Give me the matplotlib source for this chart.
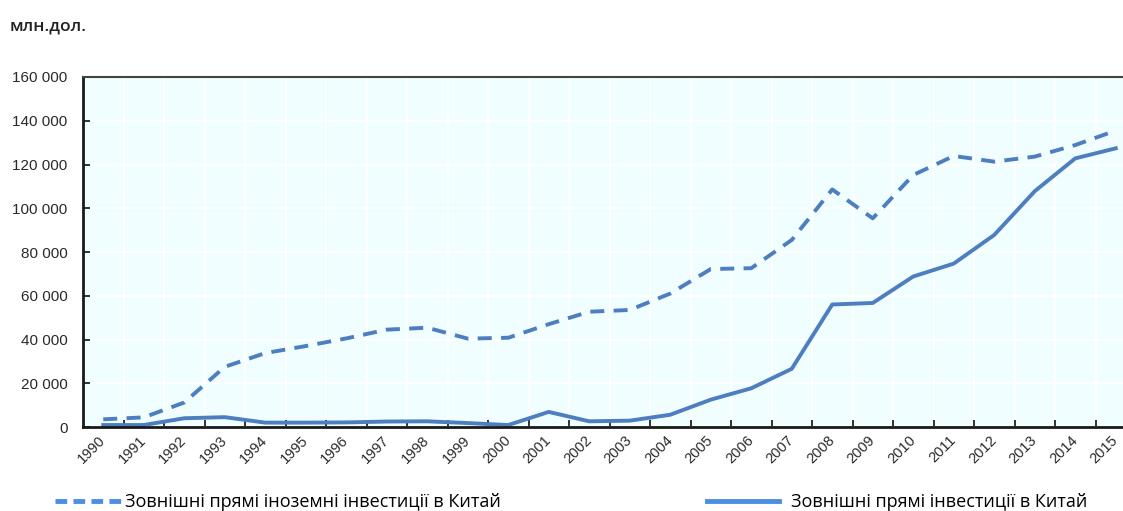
import matplotlib
matplotlib.use("Agg")
import matplotlib.pyplot as plt
from matplotlib.ticker import FuncFormatter, FixedLocator
from matplotlib.lines import Line2D
from matplotlib.transforms import ScaledTranslation

years = list(range(1990, 2016))
inward = [3500, 4400, 11200, 27500, 33800, 37000, 40500, 44500, 45400, 40400, 40800,
          47000, 52700, 53500, 61000, 72200, 72600, 85500, 108600, 95400, 115200,
          123900, 121300, 123600, 128900, 135500]
outward = [900, 900, 4000, 4500, 2000, 2000, 2100, 2500, 2600, 1800, 900,
           6900, 2600, 2900, 5600, 12500, 17700, 26600, 56000, 56700, 68800,
           74700, 87800, 107800, 122800, 127400]
label_in = "Зовнішні прямі іноземні інвестиції в Китай"
label_out = "Зовнішні прямі інвестиції в Китай"
unit_label = "млн.дол."

W, H = 1123, 511
fig = plt.figure(figsize=(W / 100, H / 100), dpi=100)
fig.patch.set_facecolor("white")

left, right, top, bottom = 83, 1136, 77, 427
ax = fig.add_axes([left / W, (H - bottom) / H, (right - left) / W, (bottom - top) / H])
ax.set_facecolor("#F0FEFF")

line_col = "#4D7EBF"
ax.plot(years, inward, color=line_col, lw=2.8, dashes=(3.6, 2.4), solid_capstyle="butt")
ax.plot(years, outward, color=line_col, lw=2.8, solid_joinstyle="round")

ax.set_xlim(1989.5, 2015.5)
ax.set_ylim(0, 160000)

# ticks between categories, labels centered on categories
ax.xaxis.set_major_locator(FixedLocator([y + 0.5 for y in years[:-1]]))
ax.xaxis.set_minor_locator(FixedLocator(years))
ax.set_xticklabels([])
labels = ax.set_xticklabels([str(y) for y in years], minor=True, rotation=45, ha="right",
                            va="center", rotation_mode="anchor", fontsize=10.5,
                            color="#2a2a2a", family="Liberation Sans")
shift = ScaledTranslation(-3 / 100, 0, fig.dpi_scale_trans)
for t in labels:
    t.set_transform(t.get_transform() + shift)
ax.tick_params(axis="x", which="minor", length=0, pad=8)
ax.tick_params(axis="x", which="major", direction="in", length=5, width=1.3, color="#222222")

ax.set_yticks(range(0, 160001, 20000))
ax.yaxis.set_major_formatter(FuncFormatter(lambda v, p: f"{int(v):,}".replace(",", " ")))
ax.tick_params(axis="y", direction="in", length=5, width=1.3, color="#222222",
               labelsize=11, labelcolor="#2a2a2a", pad=11)
for t in ax.get_yticklabels():
    t.set_family("Liberation Sans")

ax.grid(True, which="major", color="white", lw=1.2)
ax.set_axisbelow(True)

for s in ["left", "bottom"]:
    ax.spines[s].set_color("#1a1a1a")
    ax.spines[s].set_linewidth(2)
ax.spines["top"].set_color("#444444")
ax.spines["top"].set_linewidth(1.5)
ax.spines["right"].set_visible(False)

fig.text(10 / W, 1 - 27 / H, unit_label, fontsize=12.5, fontweight="semibold",
         family="Open Sans", color="#222222", va="center", ha="left")

leg_col = "#4A8FE2"
h1 = Line2D([], [], color=leg_col, lw=3.5, dashes=(2.4, 1.3))
h2 = Line2D([], [], color=leg_col, lw=3.5)
l1 = fig.legend([h1], [label_in], loc="center left", bbox_to_anchor=(55 / W, 1 - 502 / H),
                frameon=False, borderpad=0, borderaxespad=0, handlelength=3.7,
                handletextpad=0.2, prop={"family": "Open Sans", "size": 13})
l2 = fig.legend([h2], [label_out], loc="center left", bbox_to_anchor=(707 / W, 1 - 502 / H),
                frameon=False, borderpad=0, borderaxespad=0, handlelength=4.0,
                handletextpad=0.65, prop={"family": "Open Sans", "size": 13})

fig.savefig("out.png", dpi=100)
